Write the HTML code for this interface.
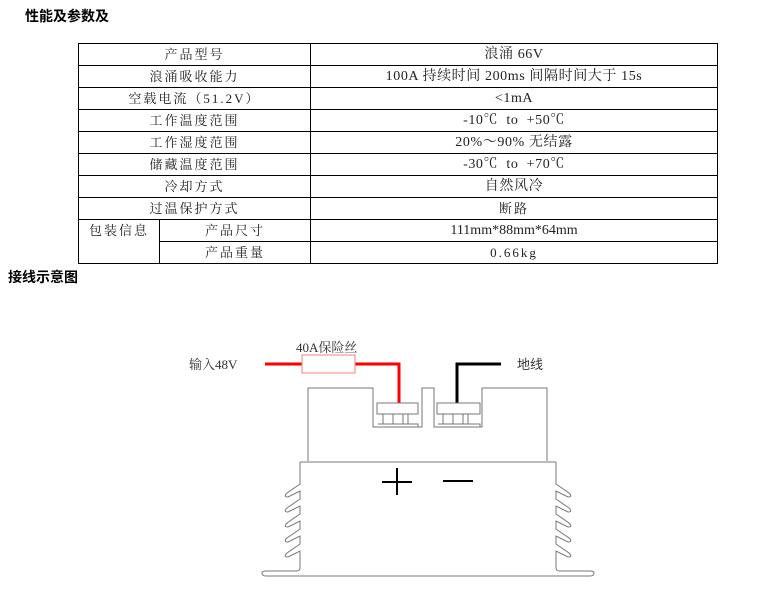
<!DOCTYPE html>
<html><head><meta charset="utf-8"><style>
body{margin:0;width:770px;height:608px;background:#fff;position:relative;font-family:"Liberation Serif","Noto Serif CJK SC","Noto Sans CJK SC",serif;overflow:hidden}
.h{position:absolute;font-family:"Liberation Sans","Noto Sans CJK SC",sans-serif;font-weight:bold;font-size:14px;color:#000}
table{position:absolute;left:78px;top:43px;width:640px;border-collapse:collapse;font-size:13px;color:#222}
td{border:1px solid #000;height:21px;padding:0;text-align:center;line-height:21px;letter-spacing:2px}
td.v{letter-spacing:0.6px;font-size:14px}
</style></head><body>
<div class="h" style="left:25px;top:6px">性能及参数及</div>
<table>
<col style="width:81px"><col style="width:151px"><col>
<tr><td colspan="2">产品型号</td><td class="v">浪涌 66V</td></tr>
<tr><td colspan="2">浪涌吸收能力</td><td class="v">100A 持续时间 200ms 间隔时间大于 15s</td></tr>
<tr><td colspan="2">空载电流（51.2V）</td><td class="v">&lt;1mA</td></tr>
<tr><td colspan="2">工作温度范围</td><td class="v">-10℃ &nbsp;to &nbsp;+50℃</td></tr>
<tr><td colspan="2">工作湿度范围</td><td class="v">20%～90% 无结露</td></tr>
<tr><td colspan="2">储藏温度范围</td><td class="v">-30℃ &nbsp;to &nbsp;+70℃</td></tr>
<tr><td colspan="2">冷却方式</td><td class="v">自然风冷</td></tr>
<tr><td colspan="2">过温保护方式</td><td>断路</td></tr>
<tr><td rowspan="2" style="vertical-align:top">包装信息</td><td>产品尺寸</td><td class="v" style="letter-spacing:0">111mm*88mm*64mm</td></tr>
<tr><td>产品重量</td><td>0.66kg</td></tr>
</table>
<div class="h" style="left:8px;top:267px">接线示意图</div>
<svg width="770" height="608" style="position:absolute;left:0;top:0" fill="none">
<text x="189" y="369" font-size="13" fill="#333" stroke="none" font-family="Liberation Serif,Noto Serif CJK SC,serif">输入48V</text>
<text x="296" y="352" font-size="13" fill="#333" stroke="none" font-family="Liberation Serif,Noto Serif CJK SC,serif">40A保险丝</text>
<text x="517" y="369" font-size="13" fill="#333" stroke="none" font-family="Noto Sans CJK SC,sans-serif">地线</text>
<path d="M265 364H302M355 364H399V403" stroke="#f00" stroke-width="3"/>
<rect x="302" y="355" width="53" height="18" stroke="#f08080" stroke-width="1"/>
<path d="M457 403V364H501" stroke="#000" stroke-width="3"/>
<g stroke="#777" stroke-width="1">
<path d="M308 461V388H373V427H422V388H434V427H482V388H547V461"/>
<rect x="377" y="403" width="41" height="11"/>
<path d="M383 414V424M393 414V424M403 414V424M408 414V424M378 424H418V427"/>
<rect x="437" y="403" width="43" height="11"/>
<path d="M443 414V424M453 414V424M463 414V424M468 414V424M438 424H480V427"/>
<path d="M300 462H556"/>
<path d="M300 462V484L287 493Q283 497 288 497L300 491V499L287 508Q283 512 288 512L300 506V514L287 523Q283 527 288 527L300 521V529L287 538Q283 542 288 542L300 536V544L287 553Q283 557 288 557L300 551V568Q300 571 296 571H266Q262 571 262 573Q262 576 266 576H590Q594 576 594 573Q594 571 590 571H560Q556 571 556 568V551L568 557Q573 557 569 553L556 544V536L568 542Q573 542 569 538L556 529V521L568 527Q573 527 569 523L556 514V506L568 512Q573 512 569 508L556 499V491L568 497Q573 497 569 493L556 484V462"/>
</g>
<path d="M382 482H412M397 468V495M443 481H473" stroke="#000" stroke-width="2"/>
</svg>
</body></html>
